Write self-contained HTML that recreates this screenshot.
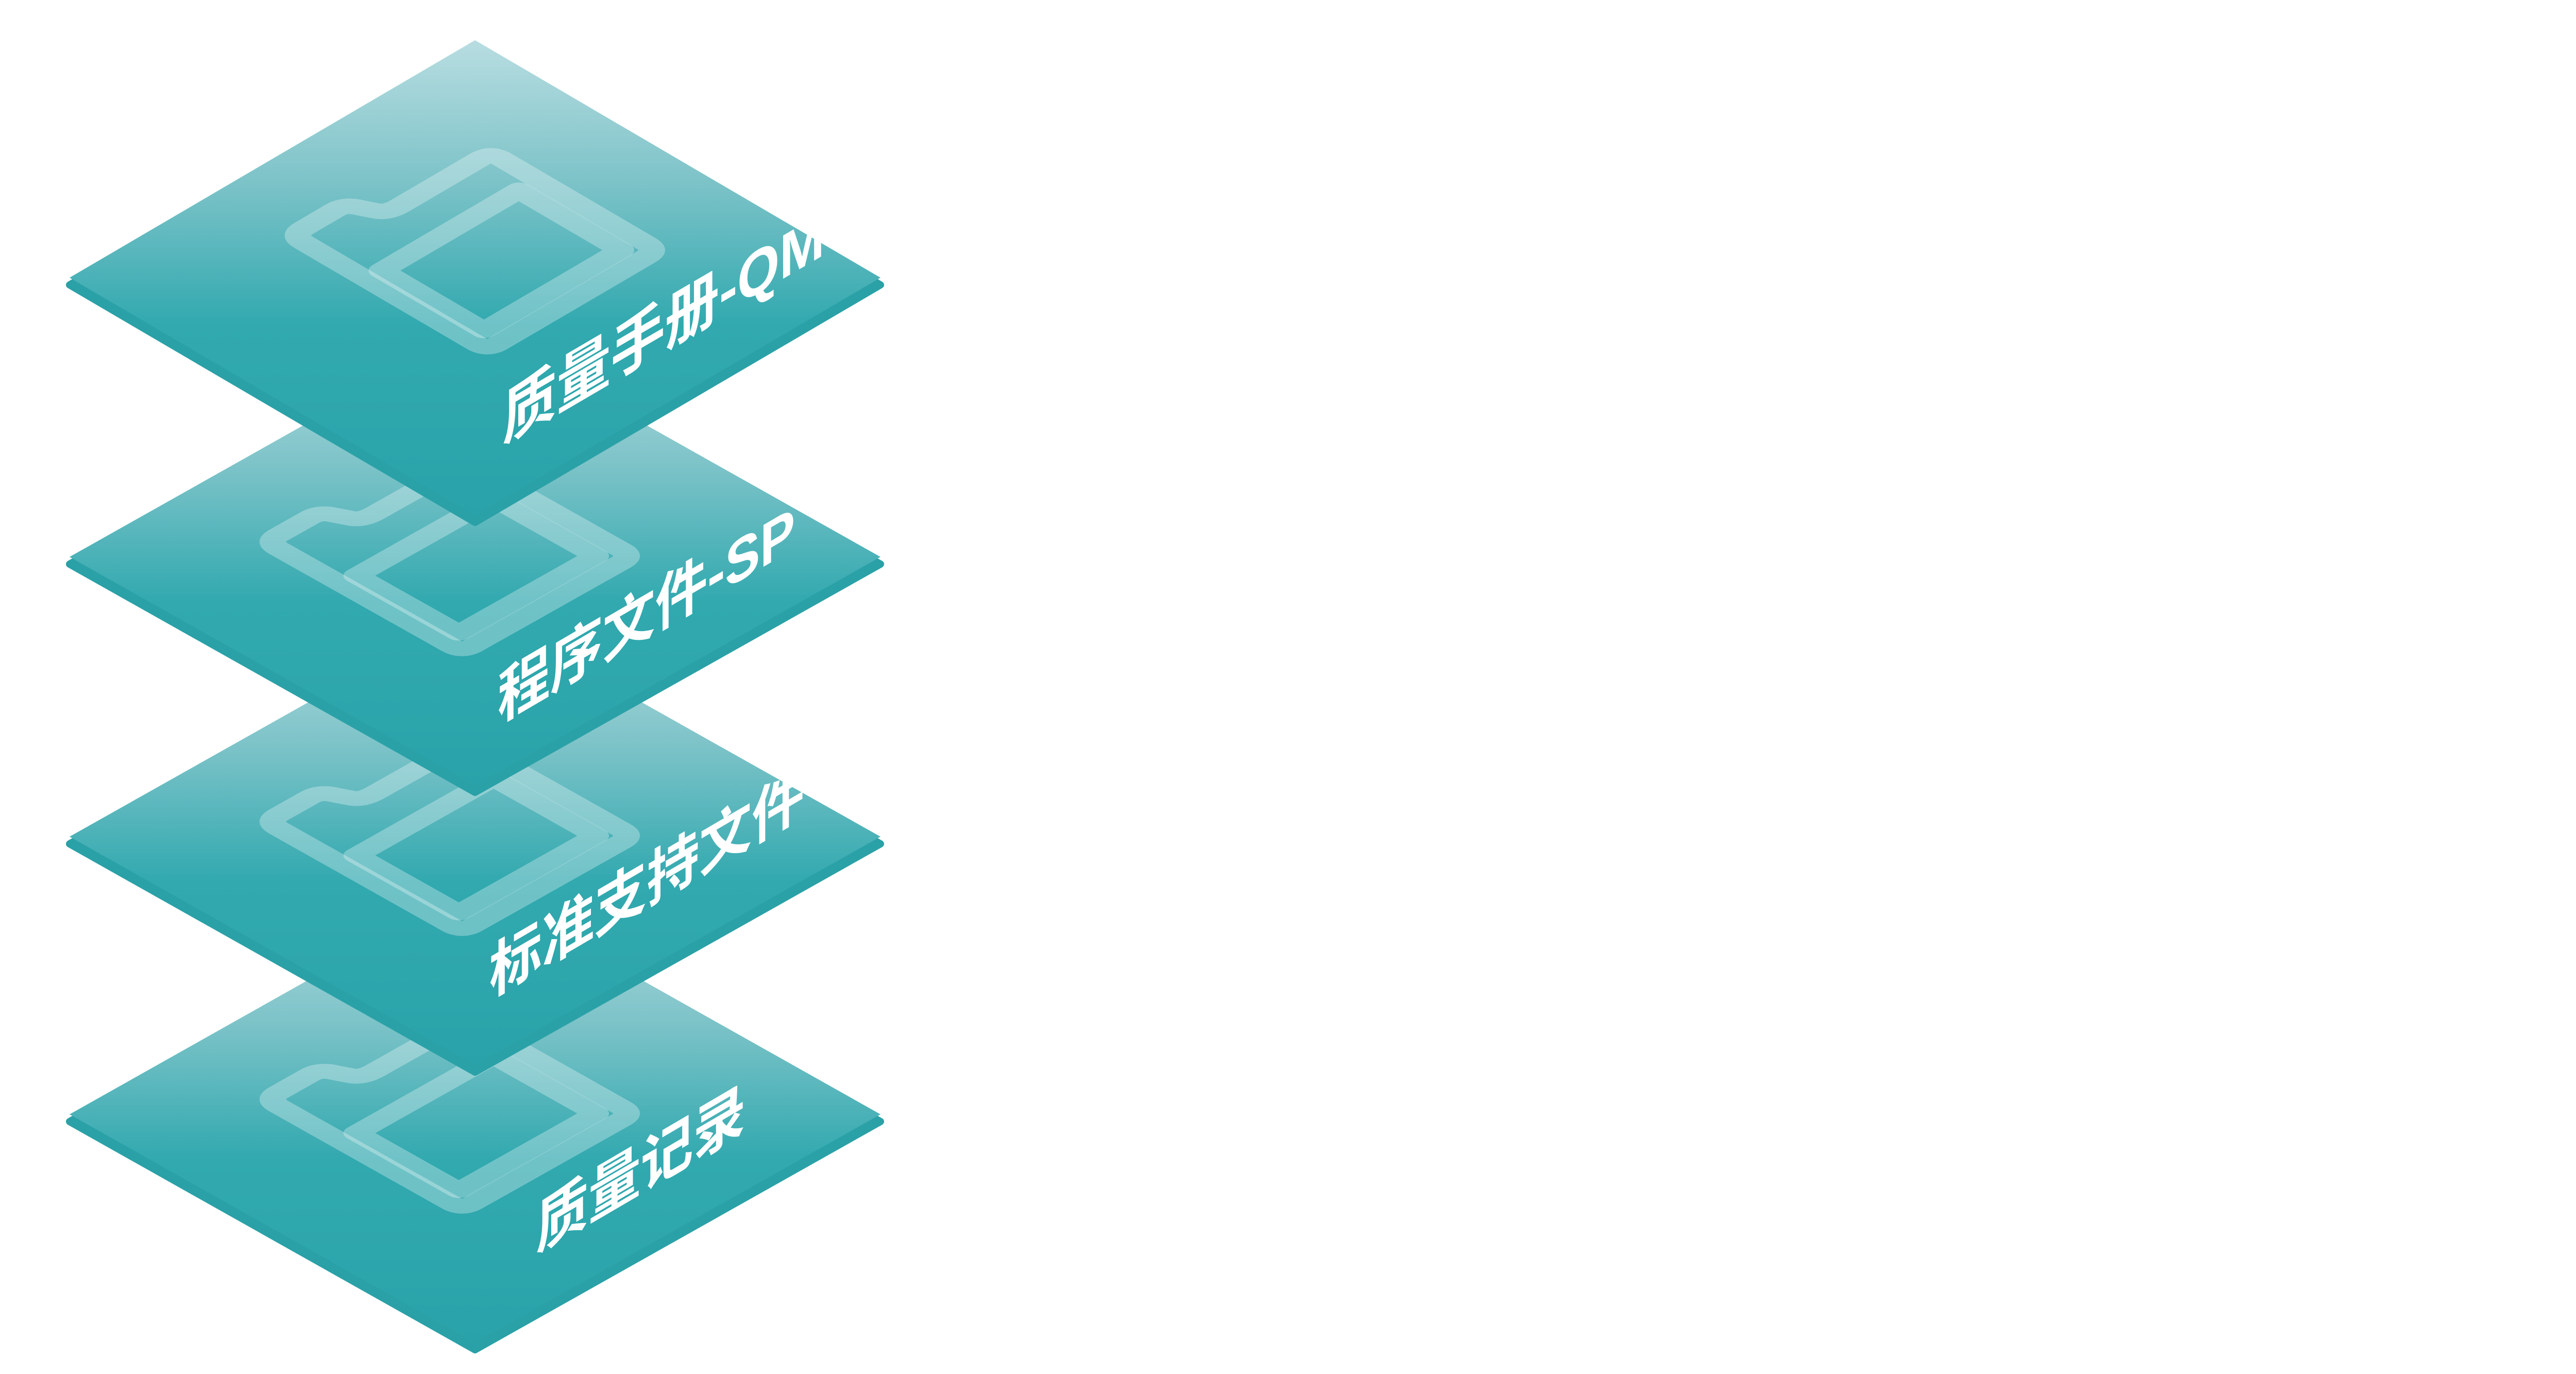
<!DOCTYPE html>
<html><head><meta charset="utf-8"><style>
html,body{margin:0;padding:0;background:#fff;}
svg{display:block;}
text{font-family:"Liberation Sans","Noto Sans CJK SC",sans-serif;fill:#fff;font-weight:bold;}
</style></head><body>
<svg width="5559" height="2667" viewBox="0 0 5559 2667" xmlns="http://www.w3.org/2000/svg">
<defs>
<linearGradient id="g" x1="0" y1="0" x2="0" y2="1">
<stop offset="0" stop-color="#b8dde1"/>
<stop offset="0.3" stop-color="#7cc3c8"/>
<stop offset="0.6" stop-color="#31a9af"/>
<stop offset="1" stop-color="#29a3a9"/>
</linearGradient>
<clipPath id="c1"><polygon points="922,78 1709,539 922,1000 135,539"/></clipPath>
<clipPath id="c2"><polygon points="922,638 1709,1081 922,1524 135,1081"/></clipPath>
<clipPath id="c3"><polygon points="922,1181 1709,1624 922,2067 135,1624"/></clipPath>
<clipPath id="c4"><polygon points="922,1720 1709,2163 922,2606 135,2163"/></clipPath>
<g id="folder" fill="none" stroke="#ffffff" stroke-opacity="0.3" stroke-width="46" stroke-linejoin="round" stroke-linecap="round">
<path d="M215,637 Q185,637 185,607 L185,530 Q185,505 210,495 L240,480 Q256,470 256,440 L256,245 Q256,217 284,217 L640,217 Q667,217 667,245 L667,610 Q667,637 640,637 Z"/>
<path d="M370,262 L622,262 L622,600 L370,600 Z"/>
</g>
</defs>

<!-- Layer 4 -->
<g>
<polygon points="922,1734 1709,2177 922,2620 135,2177" fill="#2aa1a7" stroke="#2aa1a7" stroke-width="14" stroke-linejoin="round"/>
<polygon points="922,1720 1709,2163 922,2606 135,2163" fill="url(#g)" stroke="none"/>
<g clip-path="url(#c4)">
<g transform="matrix(0.787,0.443,-0.787,0.443,922,1720)"><use href="#folder" transform="translate(25,87)"/></g>
<text transform="matrix(0.863,-0.505,0,1,1040,2430)" font-size="118">质量记录</text>
</g>
</g>

<!-- Layer 3 -->
<g>
<polygon points="922,1195 1709,1638 922,2081 135,1638" fill="#2aa1a7" stroke="#2aa1a7" stroke-width="14" stroke-linejoin="round"/>
<polygon points="922,1181 1709,1624 922,2067 135,1624" fill="url(#g)"/>
<g clip-path="url(#c3)">
<g transform="matrix(0.787,0.443,-0.787,0.443,922,1181)"><use href="#folder" transform="translate(25,87)"/></g>
<text transform="matrix(0.863,-0.505,0,1,950,1935)" font-size="118">标准支持文件</text>
</g>
</g>

<!-- Layer 2 -->
<g>
<polygon points="922,652 1709,1095 922,1538 135,1095" fill="#2aa1a7" stroke="#2aa1a7" stroke-width="14" stroke-linejoin="round"/>
<polygon points="922,638 1709,1081 922,1524 135,1081" fill="url(#g)"/>
<g clip-path="url(#c2)">
<g transform="matrix(0.787,0.443,-0.787,0.443,922,638)"><use href="#folder" transform="translate(25,87)"/></g>
<text transform="matrix(0.863,-0.505,0,1,966,1402)" font-size="118">程序文件-SP</text>
</g>
</g>

<!-- Layer 1 -->
<g>
<polygon points="922,92 1709,553 922,1014 135,553" fill="#2aa1a7" stroke="#2aa1a7" stroke-width="14" stroke-linejoin="round"/>
<polygon points="922,78 1709,539 922,1000 135,539" fill="url(#g)"/>
<g clip-path="url(#c1)">
<g transform="matrix(0.787,0.461,-0.787,0.461,922,78)"><use href="#folder"/></g>
<text transform="matrix(0.863,-0.505,0,1,975,860)" font-size="122">质量手册-QMS</text>
</g>
</g>
</svg>
</body></html>
